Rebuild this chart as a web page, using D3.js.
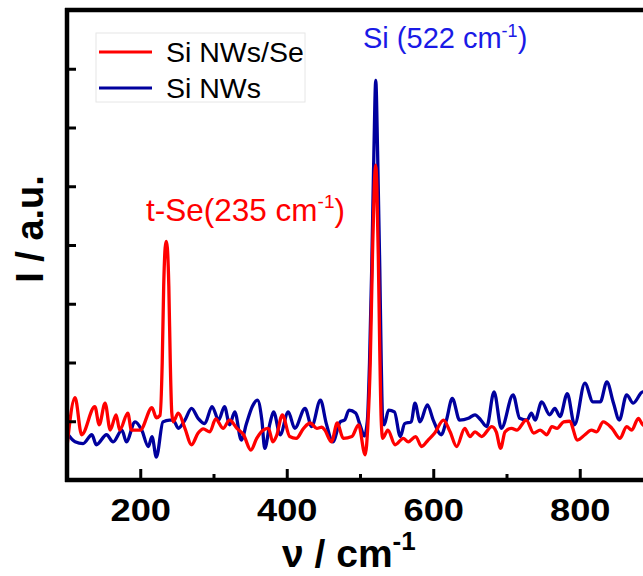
<!DOCTYPE html>
<html>
<head>
<meta charset="utf-8">
<script src="https://cdn.jsdelivr.net/npm/d3@7"></script>
<style>
  html, body { margin: 0; padding: 0; background: #fff; }
  svg { display: block; }
  text { font-family: "Liberation Sans", Arial, sans-serif; }
</style>
</head>
<body>
<svg id="chart" width="643" height="576"></svg>
<script>
// ---- Data ----
const redWavenumber = [100,111,120,138,144,152,159,167,172,183,188,200,216,222,227,230,232,234,235.5,237,239,241,243,245,252,261,270,279,286,295,303,313,322,332,341,351,359,368,375,381,386,394,404,413,423,432,441,448,452,461,469,477,489,498,507,511,514,517,519.5,521.4,523,525,527,529,531,538,548,559,566,576,584,593,602,614,623,632,643,650,657,666,680,686,692,698,707,714,727,737,746,755,762,769,778,786,797,807,816,823,832,844,855,864,871,880,886,895,905];
const redIntensity = [0.57,1.40,0.77,1.25,0.94,1.31,0.85,1.11,0.85,1.14,0.85,0.85,1.23,1.06,1.10,2.0,3.3,3.95,4.06,3.95,3.3,2.0,1.15,0.99,1.14,0.88,0.60,0.80,0.87,0.82,1.04,0.88,1.02,0.88,0.77,0.51,0.71,0.85,0.88,0.65,0.75,1.11,0.74,0.71,0.88,0.97,0.88,0.90,0.85,0.65,0.97,0.71,0.74,0.94,0.43,1.0,2.0,3.8,5.0,5.36,5.0,3.8,2.2,1.0,0.71,0.85,0.60,0.71,0.65,0.74,0.57,0.68,0.80,1.02,0.82,0.57,0.88,0.74,0.82,0.74,0.91,0.82,0.54,0.82,0.88,0.85,1.02,0.80,0.85,0.77,0.91,0.88,0.99,1.00,0.68,0.77,0.85,0.82,0.99,0.88,0.71,0.91,0.85,1.05,0.94,0.90,1.0];

const blueWavenumber = [100,111,122,134,140,154,163,175,181,193,202,211,216,222,231,240,245,252,261,270,279,288,298,307,315,322,329,338,345,353,360,366,370,377,382,391,402,411,425,434,446,454,463,473,479,485,494,500,506,510,513,516,519,521.5,524,527,529,531,533,539,547,555,561,570,575,582,592,600,611,618,626,636,648,657,665,673,683,693,709,718,728,734,739,748,759,766,773,783,793,807,818,828,837,846,854,864,873,886,895,905];
const blueIntensity = [0.80,0.65,0.62,0.77,0.60,0.77,0.65,0.85,0.65,0.99,0.85,0.57,0.74,0.39,0.99,1.02,1.02,0.88,1.02,1.22,1.05,0.96,1.25,1.02,1.25,0.94,1.16,0.68,0.96,1.25,1.36,1.02,0.54,0.96,1.16,0.77,1.16,0.88,1.22,0.91,1.36,0.96,0.65,0.99,1.02,1.19,1.14,0.94,0.75,1.0,2.0,3.6,5.6,6.8,5.6,3.6,2.0,1.0,0.94,1.19,1.16,0.74,0.96,0.99,1.31,0.99,1.28,1.02,0.77,1.02,1.39,1.02,1.05,1.11,1.02,0.91,1.50,0.88,1.45,1.05,1.02,1.14,1.02,1.33,1.11,1.22,1.08,1.47,0.94,1.65,1.33,1.33,1.67,1.31,1.02,1.45,1.31,1.50,1.4,1.3];

const xMajorTicks = [200, 400, 600, 800];
const xMinorTicks = [300, 500, 700, 900];
const yTicks = [0, 1, 2, 3, 4, 5, 6, 7, 8];
const seriesNames = ["Si NWs/Se", "Si NWs"];

// ---- Layout ----
const svg = d3.select("#chart");
const plotLeft = 67, plotTop = 10, plotBottom = 480;
const x = d3.scaleLinear().domain([100, 1000]).range([plotLeft, plotLeft + 900 * 0.7325]);
const y = d3.scaleLinear().domain([0, 8]).range([plotBottom, plotTop]);

svg.append("rect").attr("width", 643).attr("height", 576).attr("fill", "#fff");

svg.append("defs").append("clipPath").attr("id", "plotclip")
  .append("rect").attr("x", plotLeft).attr("y", plotTop).attr("width", 700).attr("height", plotBottom - plotTop);

const line = d3.line().x(d => x(d[0])).y(d => y(d[1])).curve(d3.curveMonotoneX);
const blueData = blueWavenumber.map((w, i) => [w, blueIntensity[i]]);
const redData = redWavenumber.map((w, i) => [w, redIntensity[i]]);

const plot = svg.append("g").attr("clip-path", "url(#plotclip)");
plot.append("path").datum(blueData).attr("d", line)
  .attr("fill", "none").attr("stroke", "#00009e").attr("stroke-width", 3.3).attr("stroke-linejoin", "round");
plot.append("path").datum(redData).attr("d", line)
  .attr("fill", "none").attr("stroke", "#ff0000").attr("stroke-width", 3.3).attr("stroke-linejoin", "round");

// ---- Axes ----
const xAxis = svg.append("g").attr("transform", `translate(0,${plotBottom})`)
  .call(d3.axisBottom(x).tickValues(xMajorTicks).tickSize(-11).tickPadding(19).tickFormat(d3.format("d")));
xAxis.select(".domain").remove();
xAxis.selectAll(".tick line").attr("stroke", "#000").attr("stroke-width", 3);
xAxis.selectAll(".tick text")
  .attr("font-family", "'Liberation Sans', Arial, sans-serif")
  .attr("font-weight", "bold").attr("font-size", 31).attr("fill", "#000")
  .attr("transform", "scale(1.17,1)");

const xMinor = svg.append("g").attr("transform", `translate(0,${plotBottom})`)
  .call(d3.axisBottom(x).tickValues(xMinorTicks).tickSize(-6).tickFormat(""));
xMinor.select(".domain").remove();
xMinor.selectAll(".tick line").attr("stroke", "#000").attr("stroke-width", 3);

const yAxis = svg.append("g").attr("transform", `translate(${plotLeft},0)`)
  .call(d3.axisLeft(y).tickValues(yTicks).tickSize(-9).tickFormat(""));
yAxis.select(".domain").remove();
yAxis.selectAll(".tick line").attr("stroke", "#000").attr("stroke-width", 3);

// frame
svg.append("line").attr("x1", plotLeft).attr("x2", plotLeft).attr("y1", plotTop - 2).attr("y2", plotBottom + 2)
  .attr("stroke", "#000").attr("stroke-width", 4.5);
svg.append("line").attr("x1", plotLeft - 2).attr("x2", 650).attr("y1", plotTop).attr("y2", plotTop)
  .attr("stroke", "#000").attr("stroke-width", 4.5);
svg.append("line").attr("x1", plotLeft - 2).attr("x2", 650).attr("y1", plotBottom).attr("y2", plotBottom)
  .attr("stroke", "#000").attr("stroke-width", 4.5);

// ---- Axis titles ----
const xt = svg.append("text").attr("x", 282).attr("y", 567)
  .attr("font-weight", "bold").attr("font-size", 39).attr("fill", "#000");
xt.append("tspan").text("ν / cm");
xt.append("tspan").attr("font-size", 26).attr("dy", -17).text("-1");

svg.append("text").attr("transform", "translate(43,229) rotate(-90)")
  .attr("text-anchor", "middle").attr("font-weight", "bold").attr("font-size", 38)
  .attr("fill", "#000").text("I / a.u.");

// ---- Annotations ----
const ra = svg.append("text").attr("x", 146).attr("y", 221).attr("font-size", 31.5).attr("fill", "#ff0000");
ra.append("tspan").text("t-Se(235 cm");
ra.append("tspan").attr("font-size", 19).attr("dy", -13).text("-1");
ra.append("tspan").attr("dy", 13).text(")");

const ba = svg.append("text").attr("x", 363).attr("y", 48).attr("font-size", 29).attr("fill", "#1a1ae6");
ba.append("tspan").text("Si (522 cm");
ba.append("tspan").attr("font-size", 18).attr("dy", -11).text("-1");
ba.append("tspan").attr("dy", 11).text(")");

// ---- Legend ----
const legend = svg.append("g");
legend.append("rect").attr("x", 96).attr("y", 33).attr("width", 209).attr("height", 69)
  .attr("fill", "#fff").attr("stroke", "#e6e6e6").attr("stroke-width", 1);
const legendColors = ["#ff0000", "#00009e"];
const legendY = [52, 88];
seriesNames.forEach((name, i) => {
  legend.append("line").attr("x1", 99).attr("x2", 152).attr("y1", legendY[i]).attr("y2", legendY[i])
    .attr("stroke", legendColors[i]).attr("stroke-width", 3);
  legend.append("text").attr("x", 166).attr("y", legendY[i] + 9.5)
    .attr("font-size", 28.5).attr("fill", "#000").text(name);
});
</script>
</body>
</html>
